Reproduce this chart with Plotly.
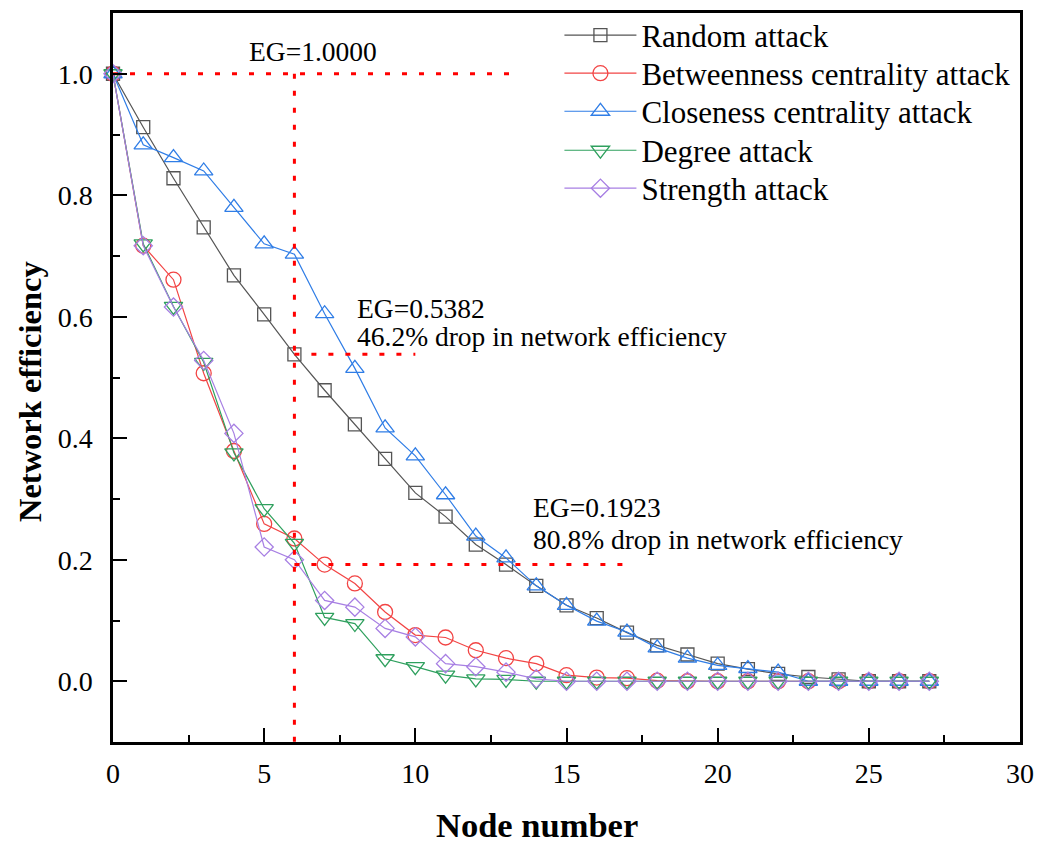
import plotly.graph_objects as go

# ---------------- data ----------------
nodes = list(range(28))

random_attack = [1.0, 0.912, 0.828, 0.747, 0.668, 0.604, 0.538, 0.479, 0.423, 0.366,
                 0.310, 0.271, 0.225, 0.192, 0.157, 0.125, 0.104, 0.080, 0.059, 0.044,
                 0.029, 0.020, 0.012, 0.007, 0.003, 0.0, 0.0, 0.0]
betweenness_attack = [1.0, 0.717, 0.661, 0.507, 0.379, 0.259, 0.235, 0.192, 0.161, 0.114,
                      0.076, 0.072, 0.051, 0.038, 0.029, 0.010, 0.006, 0.005, 0.001, 0.0,
                      0.0, 0.0, 0.0, 0.0, 0.0, 0.0, 0.0, 0.0]
closeness_attack = [1.0, 0.883, 0.862, 0.840, 0.780, 0.720, 0.703, 0.605, 0.515, 0.417,
                    0.371, 0.307, 0.239, 0.203, 0.157, 0.125, 0.099, 0.081, 0.055, 0.038,
                    0.026, 0.021, 0.015, 0.0, 0.0, 0.0, 0.0, 0.0]
degree_attack = [1.0, 0.720, 0.617, 0.525, 0.376, 0.284, 0.227, 0.105, 0.095, 0.037,
                 0.024, 0.010, 0.004, 0.003, 0.0, 0.0, 0.0, 0.0, 0.0, 0.0,
                 0.0, 0.0, 0.0, 0.0, 0.0, 0.0, 0.0, 0.0]
strength_attack = [1.0, 0.717, 0.616, 0.528, 0.408, 0.221, 0.200, 0.133, 0.122, 0.087,
                   0.073, 0.029, 0.024, 0.015, 0.004, 0.0, 0.0, 0.0, 0.0, 0.0,
                   0.0, 0.0, 0.0, 0.0, 0.0, 0.0, 0.0, 0.0]

series_names = ["Random attack", "Betweenness centrality attack", "Closeness centrality attack",
                "Degree attack", "Strength attack"]

# guide values
eg_values = [1.0, 0.5382, 0.1923]
eg_guide_start = [0, 6, 6]
eg_guide_end = [13.1, 10, 17]
removed_nodes = 6
eg_labels = ["EG=1.0000", "EG=0.5382", "EG=0.1923"]
drop_labels = ["46.2% drop in network efficiency", "80.8% drop in network efficiency"]

x_ticks = [0, 5, 10, 15, 20, 25, 30]
y_ticks = [0.0, 0.2, 0.4, 0.6, 0.8, 1.0]
x_title = "Node number"
y_title = "Network efficiency"

# ---------------- style ----------------
FONT = "Liberation Serif"
colors = ["#555555", "#F24444", "#2F7DE6", "#2FA05E", "#A77FE3"]
symbols = ["square-open", "circle-open", "triangle-up-open", "triangle-down-open", "diamond-open"]
sizes = [13, 15, 16, 16, 14]
legend_ids = ["legend", "legend2", "legend3", "legend4", "legend5"]
legend_y = [1.0061, 0.9540, 0.9018, 0.8483, 0.7962]

fig = go.Figure()
all_series = [random_attack, betweenness_attack, closeness_attack, degree_attack, strength_attack]
for name, ys, c, s, sz, lg in zip(series_names, all_series, colors, symbols, sizes, legend_ids):
    fig.add_trace(go.Scatter(
        x=nodes, y=ys, name=name, mode="lines+markers",
        line=dict(color=c, width=1.2),
        marker=dict(symbol=s, size=sz, color=c, line=dict(color=c, width=1.3)),
        cliponaxis=False, legend=lg,
    ))

dot = dict(color="#FF0000", width=3, dash="5px,12px")
for v, x0, x1 in zip(eg_values, eg_guide_start, eg_guide_end):
    fig.add_trace(go.Scatter(x=[x0, x1], y=[v, v], mode="lines", line=dot,
                             showlegend=False, hoverinfo="skip"))
fig.add_trace(go.Scatter(x=[removed_nodes, removed_nodes], y=[eg_values[0], -0.1], mode="lines",
                         line=dot, showlegend=False, hoverinfo="skip"))

ann_font = dict(family=FONT, size=27.5, color="black")
fig.add_annotation(x=4.43, y=1.036, text=eg_labels[0], showarrow=False,
                   xanchor="left", yanchor="middle", font=ann_font)
fig.add_annotation(x=8.0, y=0.614, text=eg_labels[1], showarrow=False,
                   xanchor="left", yanchor="middle", font=ann_font)
fig.add_annotation(x=8.0, y=0.567, text=drop_labels[0], showarrow=False,
                   xanchor="left", yanchor="middle", font=ann_font)
fig.add_annotation(x=13.83, y=0.286, text=eg_labels[2], showarrow=False,
                   xanchor="left", yanchor="middle", font=ann_font)
fig.add_annotation(x=13.83, y=0.234, text=drop_labels[1], showarrow=False,
                   xanchor="left", yanchor="middle", font=ann_font)

# axis titles as annotations (reference titles are off-centre)
fig.add_annotation(xref="paper", yref="paper", x=-0.0915, y=0.480, text="<b>%s</b>" % y_title,
                   textangle=-90, showarrow=False, xanchor="center", yanchor="middle",
                   font=dict(family=FONT, size=32.5, color="black"))
fig.add_annotation(xref="paper", yref="paper", x=0.4675, y=-0.1135, text="<b>%s</b>" % x_title,
                   showarrow=False, xanchor="center", yanchor="middle",
                   font=dict(family=FONT, size=34.5, color="black"))

axis_common = dict(
    showline=True, linecolor="black", linewidth=2.5, mirror=True,
    ticks="inside", ticklen=14, tickwidth=2, tickcolor="black",
    showgrid=False, zeroline=False, automargin=False,
    tickfont=dict(family=FONT, size=28, color="black"),
)
fig.update_xaxes(
    range=[0, 30], tickvals=x_ticks,
    minor=dict(dtick=2.5, ticks="inside", ticklen=7, tickwidth=2, tickcolor="black"),
    ticklabelstandoff=5,
    **axis_common,
)
fig.update_yaxes(
    range=[-0.1, 1.1], tickvals=y_ticks, tickformat=".1f",
    minor=dict(dtick=0.1, tick0=0, ticks="inside", ticklen=7, tickwidth=2, tickcolor="black"),
    ticklabelstandoff=12,
    **axis_common,
)

legend_font = dict(family=FONT, size=31, color="black")
layout_legends = {}
for lg, ly in zip(legend_ids, legend_y):
    layout_legends[lg] = dict(x=0.4922, y=ly, xanchor="left", yanchor="top",
                              bgcolor="rgba(0,0,0,0)", borderwidth=0,
                              font=legend_font, itemwidth=72)

fig.update_layout(
    width=1038, height=843,
    margin=dict(l=113, r=18, t=13, b=101, autoexpand=False),
    plot_bgcolor="white", paper_bgcolor="white",
    font=dict(family=FONT, color="black"),
    **layout_legends,
)

fig.write_html("out.html")
